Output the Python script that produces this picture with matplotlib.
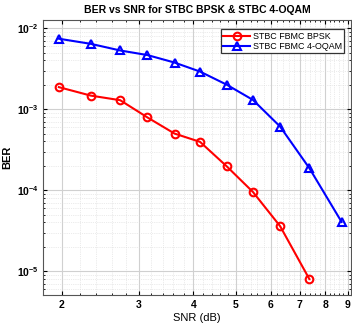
import numpy as np
import matplotlib.pyplot as plt
from matplotlib.ticker import FixedLocator, NullFormatter, LogLocator

plt.rcParams['font.family'] = ['Liberation Sans', 'DejaVu Sans']

# SNR points (dB)
snr_bpsk = [1.97, 2.33, 2.72, 3.14, 3.62, 4.14, 4.76, 5.47, 6.31, 7.36]
snr_oqam = [1.97, 2.33, 2.72, 3.14, 3.62, 4.14, 4.76, 5.47, 6.31, 7.36, 8.72]

# BER values
ber_bpsk = [1.87e-3, 1.47e-3, 1.29e-3, 7.9e-4, 5.0e-4, 3.95e-4, 1.98e-4, 9.5e-5, 3.6e-5, 8.0e-6]
ber_oqam = [7.4e-3, 6.4e-3, 5.3e-3, 4.65e-3, 3.76e-3, 2.91e-3, 2.01e-3, 1.30e-3, 6.1e-4, 1.87e-4, 4.06e-5]

x_ticks = [2, 3, 4, 5, 6, 7, 8, 9]

fig = plt.figure(figsize=(3.52, 3.31), dpi=100)
ax = fig.add_axes([0.123, 0.109, 0.874, 0.831])

ax.loglog(snr_bpsk, ber_bpsk, '-o', color='red', lw=1.5, ms=5.5,
          mfc='none', mew=1.5, label='STBC FBMC BPSK')
ax.loglog(snr_oqam, ber_oqam, '-^', color='blue', lw=1.5, ms=6,
          mfc='none', mew=1.5, label='STBC FBMC 4-OQAM')

ax.set_xlim(1.815, 9.16)
ax.set_ylim(5.1e-6, 1.265e-2)

ax.xaxis.set_major_locator(FixedLocator(x_ticks))
ax.set_xticklabels([str(t) for t in x_ticks])
minor_x = [v for v in np.arange(1.8, 9.2, 0.2) if all(abs(v - t) > 1e-6 for t in x_ticks)]
ax.xaxis.set_minor_locator(FixedLocator(minor_x))
ax.xaxis.set_minor_formatter(NullFormatter())
ax.yaxis.set_minor_locator(LogLocator(base=10, subs=np.arange(2, 10)))
ax.yaxis.set_minor_formatter(NullFormatter())

ax.grid(True, which='major', color='#d0d0d0', lw=0.8, ls='-')
ax.grid(True, which='minor', color='#d8d8d8', lw=0.5, ls=':')
ax.set_axisbelow(True)

ax.tick_params(which='both', direction='in', top=True, right=True, labelsize=7.5)
ax.tick_params(which='major', length=3)
ax.tick_params(which='minor', length=1.5)
for lbl in ax.get_xticklabels() + ax.get_yticklabels():
    lbl.set_fontweight('bold')
for s in ax.spines.values():
    s.set_color('#555555')
    s.set_linewidth(0.8)

ax.set_xlabel('SNR (dB)', fontsize=8, labelpad=2)
ax.set_ylabel('BER', fontsize=8, fontweight='bold')
ax.yaxis.set_label_coords(-0.102, 0.5)
ax.set_title('BER vs SNR for STBC BPSK & STBC 4-OQAM', fontsize=7.5, fontweight='bold', pad=5)

leg = ax.legend(loc='upper right', bbox_to_anchor=(0.978, 0.965), fontsize=6.4,
                fancybox=False, framealpha=1, edgecolor='#333333', borderpad=0.25,
                handlelength=3.0, labelspacing=0.15, handletextpad=0.3, borderaxespad=0)
leg.get_frame().set_linewidth(0.9)

fig.savefig('out.png', dpi=100)
